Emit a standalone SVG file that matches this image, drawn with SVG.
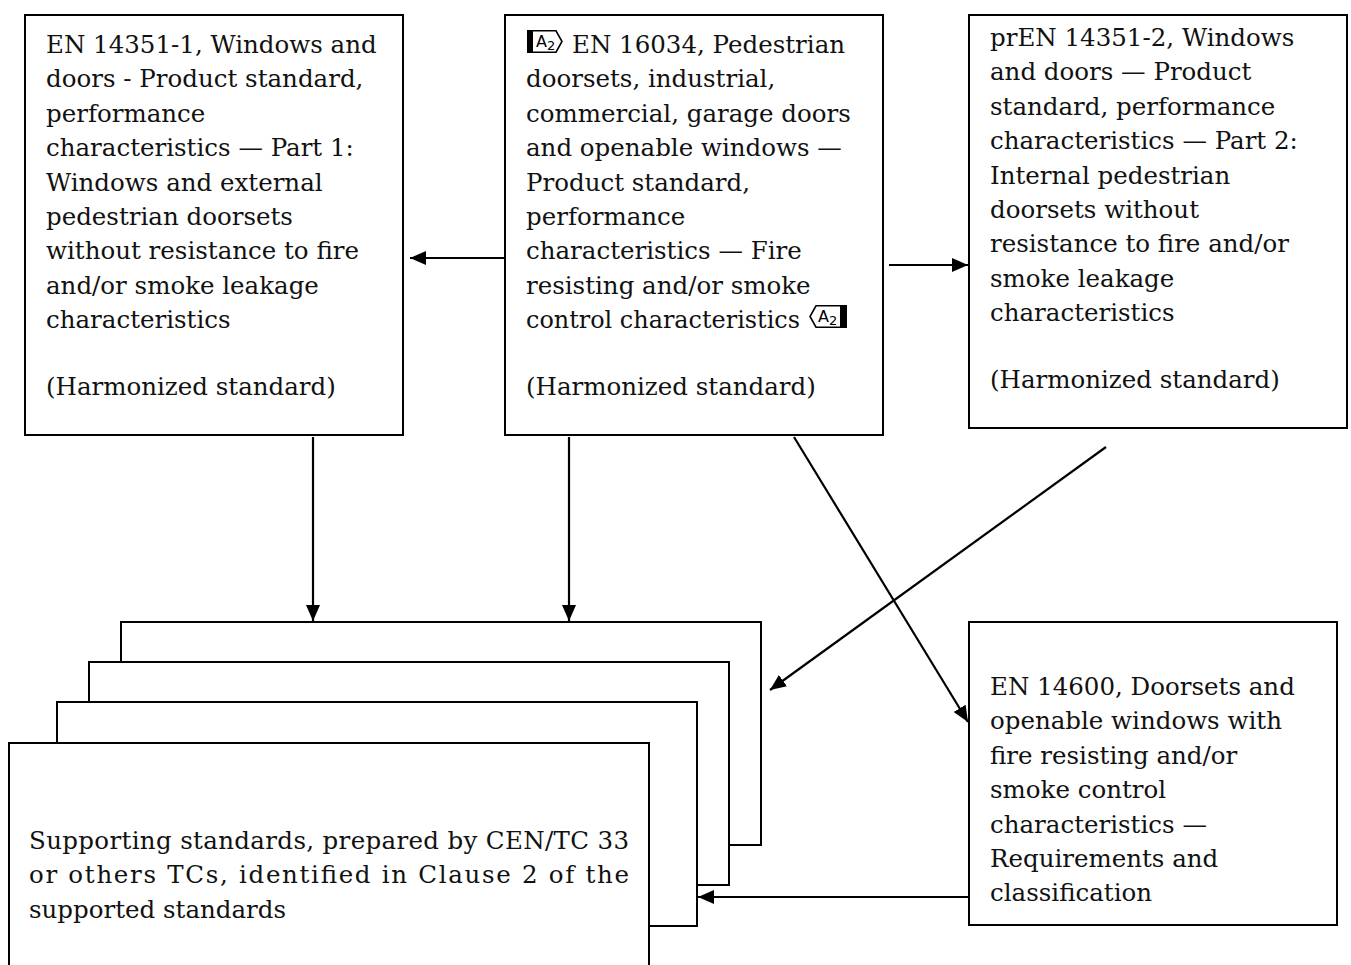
<svg xmlns="http://www.w3.org/2000/svg" width="1351" height="965" viewBox="0 0 1351 965">
<style>
.box{fill:#fff;stroke:#000;stroke-width:2}
.t{font-family:"DejaVu Serif","Liberation Serif",serif;font-size:24.5px;fill:#111}
.c{stroke:#000;stroke-width:2.2;fill:none}
.mk{font-family:"DejaVu Sans","Liberation Sans",sans-serif;fill:#000}
</style>
<defs>
<marker id="ah" markerUnits="userSpaceOnUse" markerWidth="18" markerHeight="14" refX="16" refY="7" orient="auto">
<path d="M0,0 L16,7 L0,14 Z" fill="#000"/>
</marker>
</defs>
<rect width="1351" height="965" fill="#fff"/>

<g id="stack">
<rect class="box" x="121" y="622" width="640" height="223"/>
<rect class="box" x="89" y="662" width="640" height="223"/>
<rect class="box" x="57" y="702" width="640" height="224"/>
</g>

<g id="supporting">
<rect class="box" x="9" y="743" width="640" height="240"/>
<text class="t"><tspan x="29" y="849" textLength="600" lengthAdjust="spacing">Supporting standards, prepared by CEN/TC 33</tspan><tspan x="29" y="883.4" textLength="600" lengthAdjust="spacing">or others TCs, identified in Clause 2 of the</tspan><tspan x="29" y="917.8">supported standards</tspan></text>
</g>

<g id="en14351-1">
<rect class="box" x="25" y="15" width="378" height="420"/>
<text class="t"><tspan x="46" y="53">EN 14351-1, Windows and</tspan><tspan x="46" dy="34.4">doors - Product standard,</tspan><tspan x="46" dy="34.4">performance</tspan><tspan x="46" dy="34.4">characteristics — Part 1:</tspan><tspan x="46" dy="34.4">Windows and external</tspan><tspan x="46" dy="34.4">pedestrian doorsets</tspan><tspan x="46" dy="34.4">without resistance to fire</tspan><tspan x="46" dy="34.4">and/or smoke leakage</tspan><tspan x="46" dy="34.4">characteristics</tspan><tspan x="46" y="395">(Harmonized standard)</tspan></text>
</g>

<g id="en16034">
<rect class="box" x="505" y="15" width="378" height="420"/>
<rect x="527" y="30" width="6" height="23" fill="#000"/>
<path d="M533,30.8 L556,30.8 L562,41.5 L556,52.2 L533,52.2" fill="none" stroke="#000" stroke-width="1.6"/>
<text class="mk" x="536" y="47" font-size="16">A<tspan font-size="13" dy="3">2</tspan></text>
<text class="t"><tspan x="572" y="53">EN 16034, Pedestrian</tspan><tspan x="526" dy="34.4">doorsets, industrial,</tspan><tspan x="526" dy="34.4">commercial, garage doors</tspan><tspan x="526" dy="34.4">and openable windows —</tspan><tspan x="526" dy="34.4">Product standard,</tspan><tspan x="526" dy="34.4">performance</tspan><tspan x="526" dy="34.4">characteristics — Fire</tspan><tspan x="526" dy="34.4">resisting and/or smoke</tspan><tspan x="526" dy="34.4" textLength="274" lengthAdjust="spacingAndGlyphs">control characteristics</tspan><tspan x="526" y="395">(Harmonized standard)</tspan></text>
<path d="M840,305.8 L816,305.8 L810,316.5 L816,327.2 L840,327.2" fill="none" stroke="#000" stroke-width="1.6"/>
<rect x="840" y="305" width="7" height="23" fill="#000"/>
<text class="mk" x="818" y="322" font-size="16">A<tspan font-size="13" dy="3">2</tspan></text>
</g>

<g id="pren14351-2">
<rect class="box" x="969" y="15" width="378" height="413"/>
<text class="t"><tspan x="990" y="46">prEN 14351-2, Windows</tspan><tspan x="990" dy="34.4">and doors — Product</tspan><tspan x="990" dy="34.4">standard, performance</tspan><tspan x="990" dy="34.4">characteristics — Part 2:</tspan><tspan x="990" dy="34.4">Internal pedestrian</tspan><tspan x="990" dy="34.4">doorsets without</tspan><tspan x="990" dy="34.4">resistance to fire and/or</tspan><tspan x="990" dy="34.4">smoke leakage</tspan><tspan x="990" dy="34.4">characteristics</tspan><tspan x="990" y="388">(Harmonized standard)</tspan></text>
</g>

<g id="en14600">
<rect class="box" x="969" y="622" width="368" height="303"/>
<text class="t"><tspan x="990" y="695">EN 14600, Doorsets and</tspan><tspan x="990" dy="34.4">openable windows with</tspan><tspan x="990" dy="34.4">fire resisting and/or</tspan><tspan x="990" dy="34.4">smoke control</tspan><tspan x="990" dy="34.4">characteristics —</tspan><tspan x="990" dy="34.4">Requirements and</tspan><tspan x="990" dy="34.4">classification</tspan></text>
</g>

<g id="connectors">
<line class="c" x1="505" y1="258" x2="410" y2="258" marker-end="url(#ah)"/>
<line class="c" x1="889" y1="265" x2="968" y2="265" marker-end="url(#ah)"/>
<line class="c" x1="313" y1="437" x2="313" y2="621" marker-end="url(#ah)"/>
<line class="c" x1="569" y1="437" x2="569" y2="621" marker-end="url(#ah)"/>
<line class="c" x1="1106" y1="447" x2="770" y2="690" marker-end="url(#ah)"/>
<line class="c" x1="794" y1="437" x2="968" y2="722" marker-end="url(#ah)"/>
<line class="c" x1="969" y1="897" x2="698" y2="897" marker-end="url(#ah)"/>
</g>
</svg>
